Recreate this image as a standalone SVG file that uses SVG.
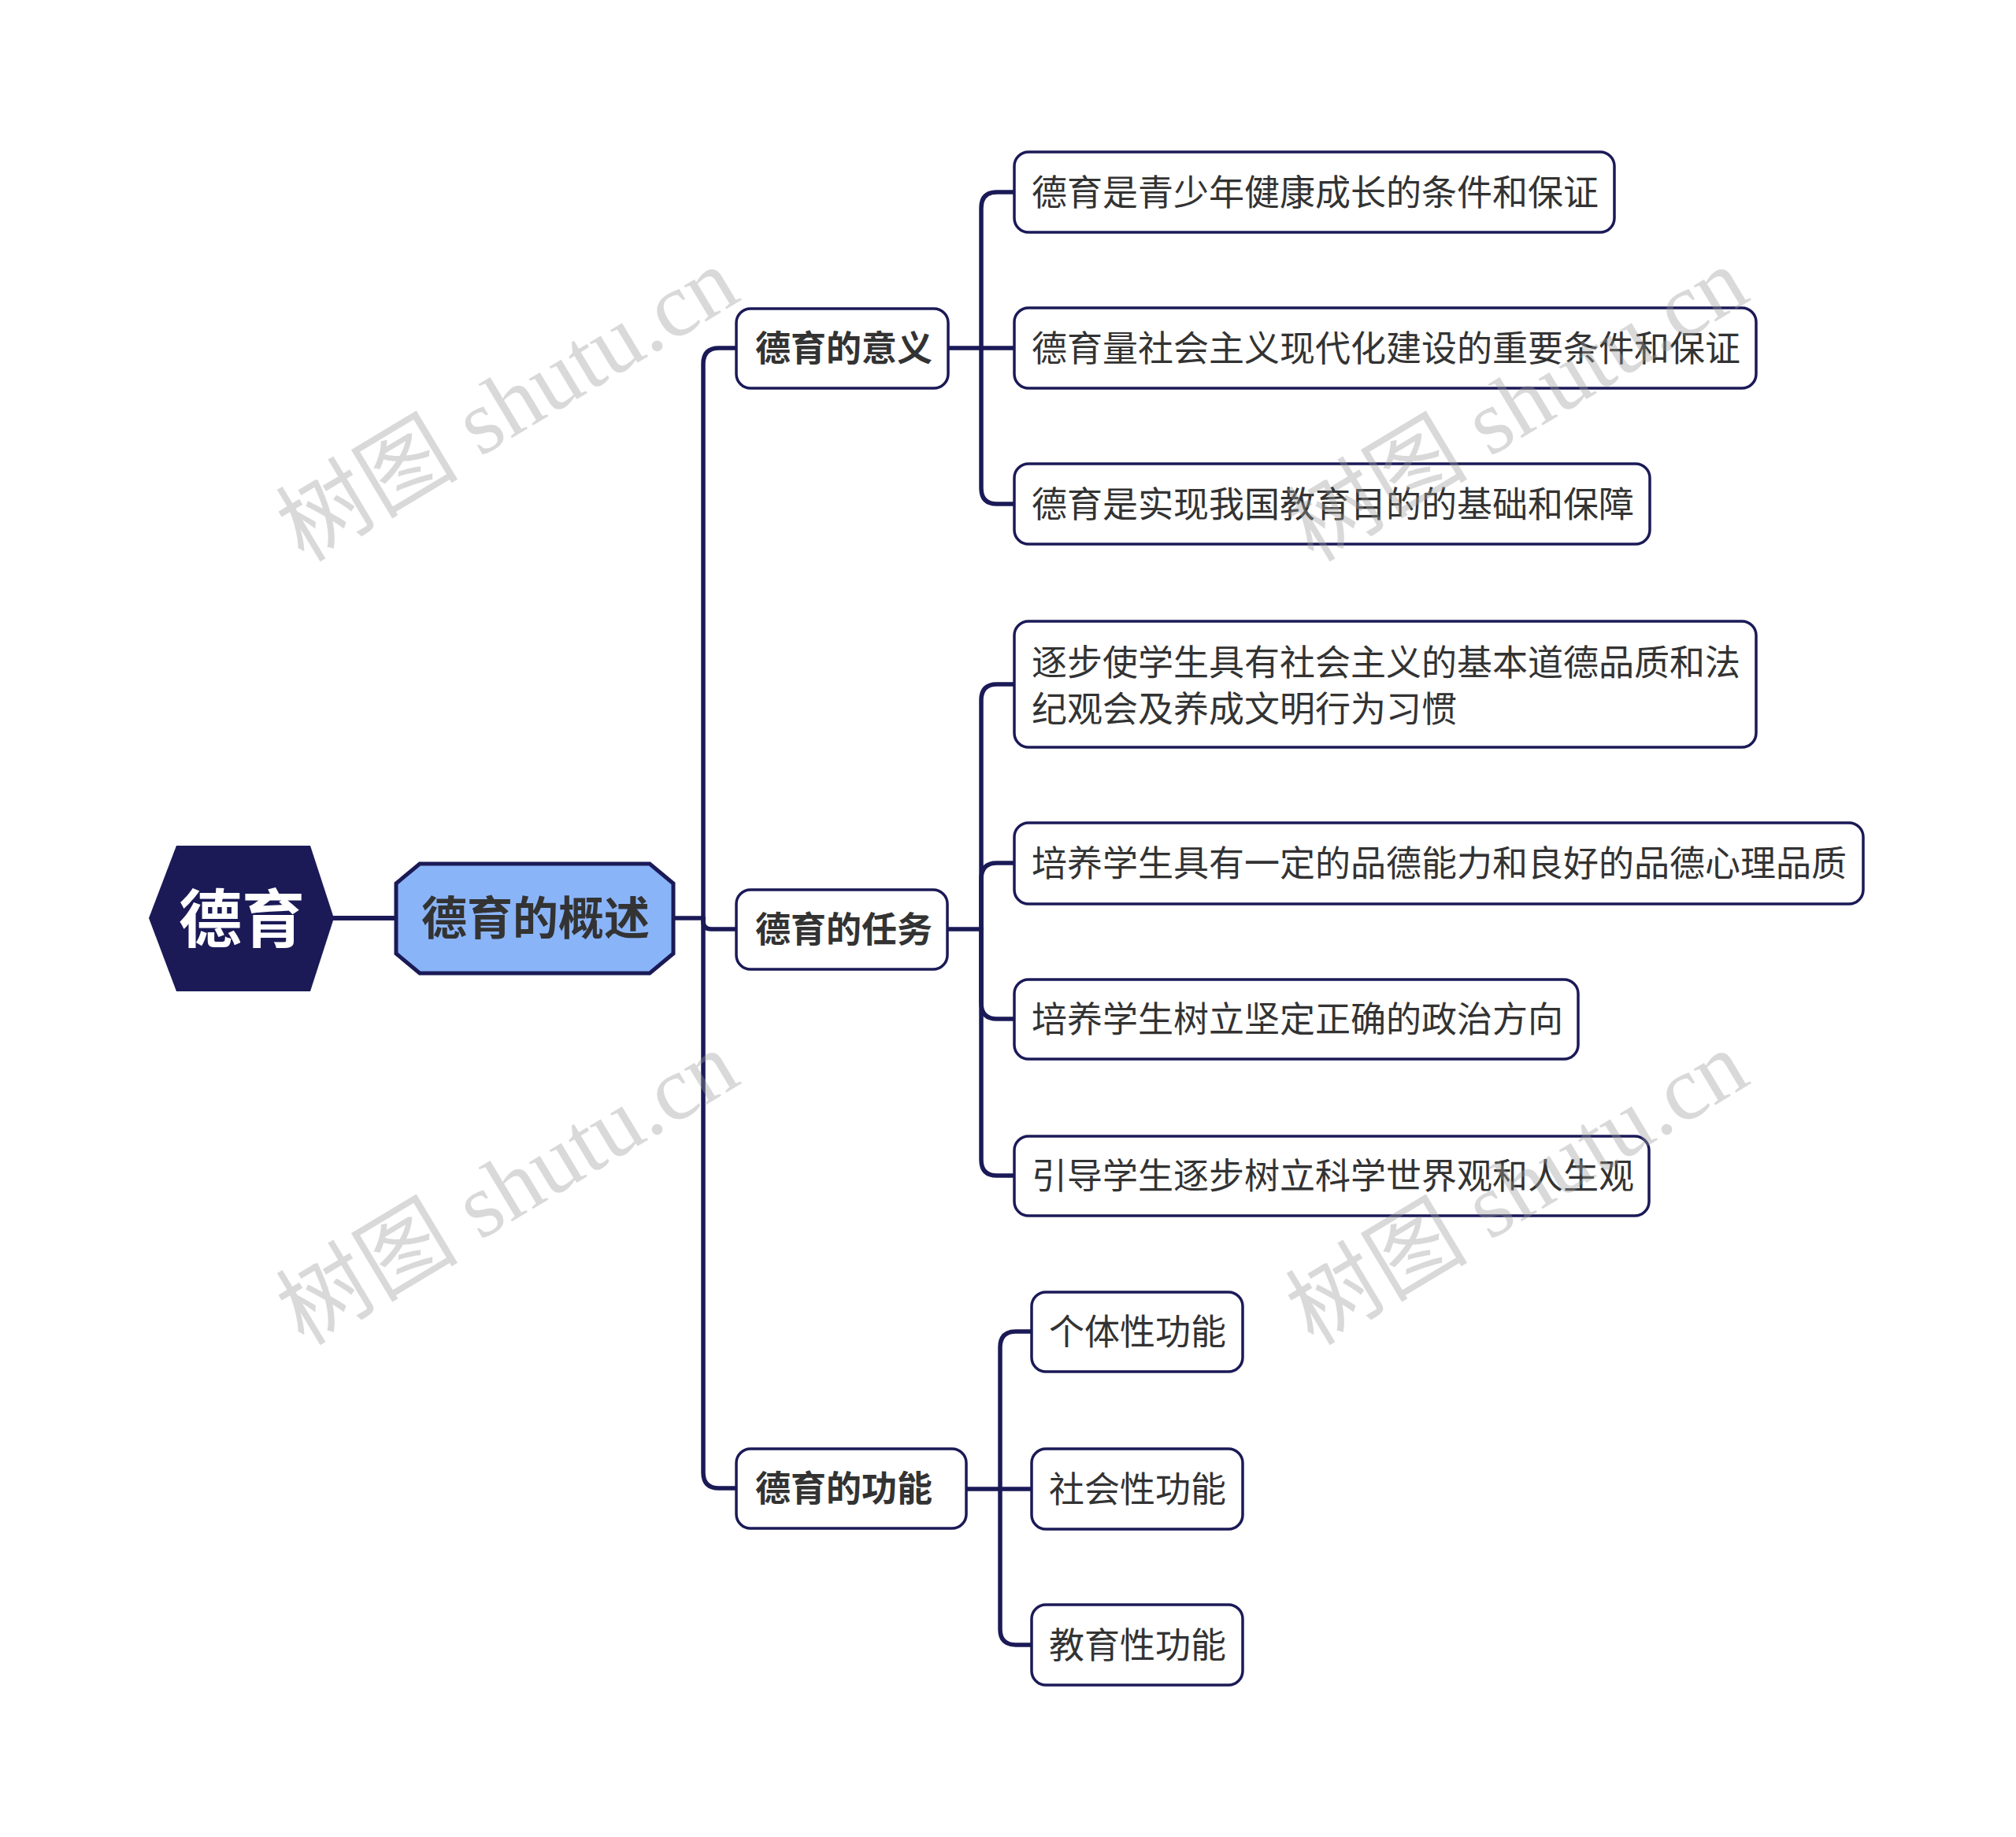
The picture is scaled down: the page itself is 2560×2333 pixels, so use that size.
<svg xmlns="http://www.w3.org/2000/svg" width="2560" height="2333" viewBox="0 0 2560 2333">
<style>
.bg{fill:#ffffff}
.conn{fill:none;stroke:#1b1a57;stroke-width:5.5;stroke-linecap:round;stroke-linejoin:round}
.box{fill:#ffffff;stroke:#1b1a57;stroke-width:3.5}
.t1{font-family:"Noto Sans CJK SC","Noto Sans",sans-serif;font-size:45px;font-weight:bold;fill:#333333}
.t2{font-family:"Noto Sans CJK SC","Noto Sans",sans-serif;font-size:45px;fill:#333333}
.wm{font-family:"Liberation Serif","Noto Sans CJK SC",serif;font-size:116px;fill:#9a9a9a;fill-opacity:0.38}
</style>
<rect class="bg" x="0" y="0" width="2560" height="2333"/>
<g id="connectors">
<path class="conn" d="M424,1166 H503" style="stroke-width:6"/>
<path class="conn" d="M855,1166 H893"/>
<path class="conn" d="M893,1166 V462 Q893,442 913,442 H935"/>
<path class="conn" d="M893,1166 V1170 Q893,1180 903,1180 H935"/>
<path class="conn" d="M893,1166 V1870 Q893,1890 913,1890 H935"/>
<path class="conn" d="M1204,442 H1246"/>
<path class="conn" d="M1246,442 V264 Q1246,244 1266,244 H1288"/>
<path class="conn" d="M1246,442 H1288"/>
<path class="conn" d="M1246,442 V620 Q1246,640 1266,640 H1288"/>
<path class="conn" d="M1203,1180 H1246"/>
<path class="conn" d="M1246,1180 V889 Q1246,869 1266,869 H1288"/>
<path class="conn" d="M1246,1180 V1116 Q1246,1096 1266,1096 H1288"/>
<path class="conn" d="M1246,1180 V1274 Q1246,1294 1266,1294 H1288"/>
<path class="conn" d="M1246,1180 V1473 Q1246,1493 1266,1493 H1288"/>
<path class="conn" d="M1227,1891 H1270"/>
<path class="conn" d="M1270,1891 V1711 Q1270,1691 1290,1691 H1310"/>
<path class="conn" d="M1270,1891 H1310"/>
<path class="conn" d="M1270,1891 V2069 Q1270,2089 1290,2089 H1310"/>
</g>
<g id="root">
<polygon points="189,1166 224,1074 394,1074 424,1166 394,1259 224,1259" fill="#1b1a57"/>
<text x="307" y="1196" text-anchor="middle" style="font-family:'Noto Sans CJK SC','Noto Sans',sans-serif;font-size:80px;font-weight:bold;fill:#ffffff">德育</text>
</g>
<g id="center">
<polygon points="533,1097 825,1097 855,1122 855,1211 825,1236 533,1236 503,1211 503,1122" fill="#8ab4f8" stroke="#1b1a57" stroke-width="5"/>
<text x="680" y="1187" text-anchor="middle" style="font-family:'Noto Sans CJK SC','Noto Sans',sans-serif;font-size:58px;font-weight:bold;fill:#333333">德育的概述</text>
</g>
<g id="n-yiyi">
<rect class="box" x="935" y="392" width="269" height="101" rx="18"/>
<text class="t1" x="959" y="459">德育的意义</text>
</g>
<g id="n-renwu">
<rect class="box" x="935" y="1130" width="268" height="101" rx="18"/>
<text class="t1" x="959" y="1197">德育的任务</text>
</g>
<g id="n-gongneng">
<rect class="box" x="935" y="1840" width="292" height="101" rx="18"/>
<text class="t1" x="959" y="1907">德育的功能</text>
</g>
<g id="n-yiyi-1">
<rect class="box" x="1288" y="193" width="762" height="102" rx="18"/>
<text class="t2" x="1310" y="261">德育是青少年健康成长的条件和保证</text>
</g>
<g id="n-yiyi-2">
<rect class="box" x="1288" y="391" width="942" height="102" rx="18"/>
<text class="t2" x="1310" y="459">德育量社会主义现代化建设的重要条件和保证</text>
</g>
<g id="n-yiyi-3">
<rect class="box" x="1288" y="589" width="807" height="102" rx="18"/>
<text class="t2" x="1310" y="657">德育是实现我国教育目的的基础和保障</text>
</g>
<g id="n-renwu-1">
<rect class="box" x="1288" y="789" width="942" height="160" rx="18"/>
<text class="t2" x="1310" y="858">逐步使学生具有社会主义的基本道德品质和法</text>
<text class="t2" x="1310" y="917">纪观会及养成文明行为习惯</text>
</g>
<g id="n-renwu-2">
<rect class="box" x="1288" y="1045" width="1078" height="103" rx="18"/>
<text class="t2" x="1310" y="1113">培养学生具有一定的品德能力和良好的品德心理品质</text>
</g>
<g id="n-renwu-3">
<rect class="box" x="1288" y="1244" width="716" height="101" rx="18"/>
<text class="t2" x="1310" y="1311">培养学生树立坚定正确的政治方向</text>
</g>
<g id="n-renwu-4">
<rect class="box" x="1288" y="1443" width="806" height="101" rx="18"/>
<text class="t2" x="1310" y="1510">引导学生逐步树立科学世界观和人生观</text>
</g>
<g id="n-gongneng-1">
<rect class="box" x="1310" y="1641" width="268" height="101" rx="18"/>
<text class="t2" x="1332" y="1708">个体性功能</text>
</g>
<g id="n-gongneng-2">
<rect class="box" x="1310" y="1840" width="268" height="102" rx="18"/>
<text class="t2" x="1332" y="1908">社会性功能</text>
</g>
<g id="n-gongneng-3">
<rect class="box" x="1310" y="2038" width="268" height="102" rx="18"/>
<text class="t2" x="1332" y="2106">教育性功能</text>
</g>
<g id="watermarks">
<text class="wm" text-anchor="middle" transform="translate(645,515) rotate(-31)" x="0" y="38">树图 shutu.cn</text>
<text class="wm" text-anchor="middle" transform="translate(1927,515) rotate(-31)" x="0" y="38">树图 shutu.cn</text>
<text class="wm" text-anchor="middle" transform="translate(645,1510) rotate(-31)" x="0" y="38">树图 shutu.cn</text>
<text class="wm" text-anchor="middle" transform="translate(1927,1510) rotate(-31)" x="0" y="38">树图 shutu.cn</text>
</g>
</svg>
